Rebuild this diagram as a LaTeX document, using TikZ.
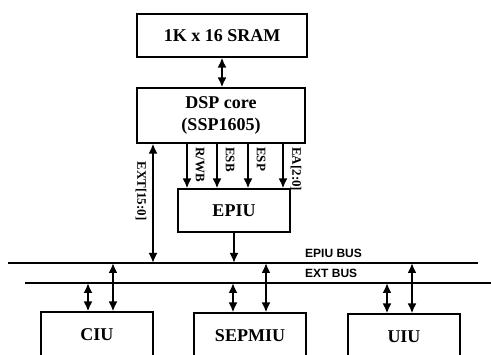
\documentclass[tikz,border=0pt]{standalone}
\usepackage{fontspec}
\setmainfont{Liberation Serif}
\newfontfamily\busfont{Liberation Sans}
\usetikzlibrary{arrows.meta,positioning}
\tikzset{
  block/.style={rectangle, draw=black, line width=1.1pt, inner sep=0pt,
                align=center, font=\fontsize{18}{22}\selectfont\bfseries},
  sigarrow/.style={-{Latex[length=10pt,width=9pt]}, line width=2.2pt},
  dblarrow/.style={{Latex[length=10pt,width=9pt]}-{Latex[length=10pt,width=9pt]},
                   line width=2.2pt},
  busline/.style={line width=2.2pt},
  siglabel/.style={rotate=-90, inner sep=0pt,
                   font=\fontsize{13}{15}\selectfont\bfseries},
  buslabel/.style={anchor=west, inner sep=0pt,
                   font=\busfont\bfseries\fontsize{12}{14}\selectfont}
}
\begin{document}
\begin{tikzpicture}[x=1pt, y=-1pt]
\clip (0,0) rectangle (491,355);
% processor side
\node[block, minimum width=170pt, minimum height=43pt] (sram) at (222,35.5) {1K x 16 SRAM};
\node[block, minimum width=168pt, minimum height=55pt] (dsp) at (221,115.5) {DSP core\\(SSP1605)};
\node[block, minimum width=112pt, minimum height=43pt] (epiu) at (234,210.5) {EPIU};
% peripheral blocks
\node[block, minimum width=112pt, minimum height=46pt] (ciu) at (97,335) {CIU};
\node[block, minimum width=112pt, minimum height=46pt] (sepmiu) at (250,336) {SEPMIU};
\node[block, minimum width=112pt, minimum height=46pt] (uiu) at (404,337) {UIU};
% buses
\coordinate (epiubusW) at (8,263);
\coordinate (epiubusE) at (478,263);
\coordinate (extbusW) at (25,283);
\coordinate (extbusE) at (491,283);
\draw[busline] (epiubusW) -- (epiubusE);
\draw[busline] (extbusW) -- (extbusE);
\node[buslabel] (epiubuslbl) at (305,253) {EPIU BUS};
\node[buslabel] (extbuslbl) at (305,273) {EXT BUS};
% connections
\draw[dblarrow] (sram.south) -- (sram.south |- dsp.north);
\coordinate (exttap) at (153,263);
\draw[dblarrow] (exttap |- dsp.south) -- (exttap);
\node[siglabel] (extlbl) at (141,191) {EXT[15:0]};
\foreach \x/\sig in {187/{R/WB},217/ESB,248/ESP,283/{EA[2:0]}}{
  \draw[sigarrow] (\x,0 |- dsp.south) -- (\x,0 |- epiu.north);
  \node[siglabel, anchor=west] at (\x+13,147) {\sig};
}
\draw[sigarrow] (epiu.south) -- (epiu.south |- epiubusW);
\foreach \blk/\s/\l in {ciu/88/113, sepmiu/233/266, uiu/387/412}{
  \draw[dblarrow] (\s,0 |- extbusW) -- (\s,0 |- \blk.north);
  \draw[dblarrow] (\l,0 |- epiubusW) -- (\l,0 |- \blk.north);
}
\end{tikzpicture}
\end{document}
